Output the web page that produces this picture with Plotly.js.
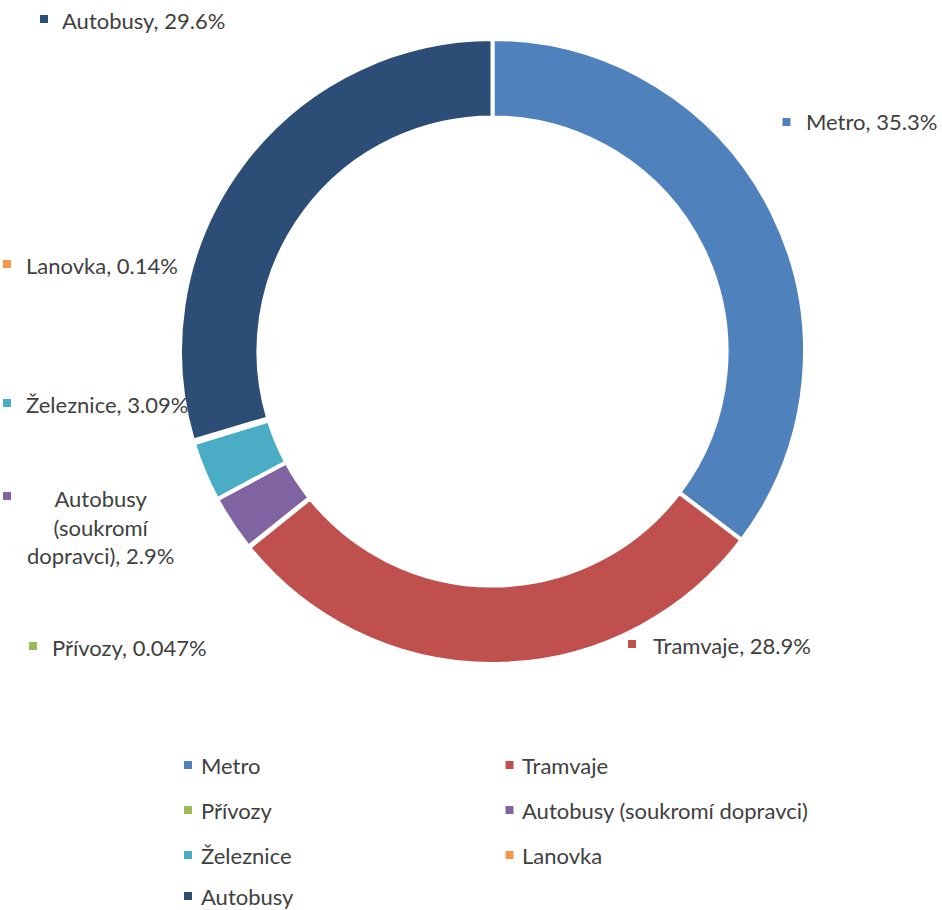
<!DOCTYPE html>
<html>
<head>
<meta charset="utf-8">
<script src="https://cdn.plot.ly/plotly-3.0.1.min.js"></script>
<style>html,body{margin:0;padding:0;background:#fff;}#chart{width:942px;height:910px;}</style>
</head>
<body>
<div id="chart"></div>
<script>
// ---- data ----
const categories = ['Metro', 'Tramvaje', 'Přívozy', 'Autobusy (soukromí dopravci)', 'Železnice', 'Lanovka', 'Autobusy'];
const shares = [35.3, 28.9, 0.047, 2.9, 3.09, 0.14, 29.6];
const colors = ['#4F81BD', '#C0504D', '#9BBB59', '#8064A2', '#4BACC6', '#F79646', '#2C4D75'];

// ---- layout helpers (pixel placement of labels / legend) ----
const W = 942, H = 910;
const px = x => x / W;
const py = y => 1 - y / H;
const FONT = 'Lato, "Open Sans", sans-serif';
const TXT = '#404040';

// label placement per slice: marker centre (mx,my), text anchor (tx,ty), anchor mode
const labelPlace = [
  {mx: 786.5, my: 122, tx: 805, ty: 122, xa: 'left'},
  {mx: 632, my: 644, tx: 652, ty: 645, xa: 'left'},
  {mx: 33, my: 646, tx: 51, ty: 647, xa: 'left'},
  {mx: 7, my: 496, tx: 100, ty: 527, xa: 'center'},
  {mx: 7, my: 403, tx: 25, ty: 404, xa: 'left'},
  {mx: 7, my: 264, tx: 25, ty: 265, xa: 'left'},
  {mx: 44, my: 19, tx: 61, ty: 20, xa: 'left'}
];

function wrap(str, maxChars) {
  const words = str.split(' ');
  const lines = [];
  let cur = '';
  words.forEach(w => {
    if (cur && (cur + ' ' + w).length > maxChars) { lines.push(cur); cur = w; }
    else cur = cur ? cur + ' ' + w : w;
  });
  if (cur) lines.push(cur);
  return lines.join('<br>');
}

const annotations = [];
const shapes = [];
const SQ = 8;
function square(cx, cy, color) {
  shapes.push({type: 'rect', xref: 'paper', yref: 'paper',
    x0: px(cx - SQ / 2), x1: px(cx + SQ / 2), y0: py(cy + SQ / 2), y1: py(cy - SQ / 2),
    fillcolor: color, line: {width: 0}});
}

categories.forEach((c, i) => {
  const p = labelPlace[i];
  const text = wrap(c + ', ' + String(shares[i]) + '%', 16);
  square(p.mx, p.my, colors[i]);
  annotations.push({xref: 'paper', yref: 'paper', x: px(p.tx), y: py(p.ty),
    xanchor: p.xa, yanchor: 'middle', align: 'center', showarrow: false, text: text,
    borderpad: 0, font: {family: FONT, size: 22, color: TXT}});
});

// manual legend, two columns filled row-wise
const legCols = [{mx: 188, tx: 200}, {mx: 509.5, tx: 521}];
const legRows = [765, 810, 855, 896];
categories.forEach((c, i) => {
  const col = legCols[i % 2];
  const ry = legRows[Math.floor(i / 2)];
  square(col.mx, ry, colors[i]);
  annotations.push({xref: 'paper', yref: 'paper', x: px(col.tx), y: py(ry),
    xanchor: 'left', yanchor: 'middle', showarrow: false, text: c,
    borderpad: 0, font: {family: FONT, size: 22, color: TXT}});
});

// donut geometry: centre (492.5, 351.5), radius 312.5 px
const cx = 492.5, cy = 351.5, R = 312.5;

const trace = {
  type: 'pie',
  labels: categories,
  values: shares,
  sort: false,
  direction: 'clockwise',
  rotation: 0,
  hole: 0.749,
  textinfo: 'none',
  hoverinfo: 'label+percent',
  marker: {colors: colors, line: {color: '#ffffff', width: 4}},
  domain: {x: [px(cx - R), px(cx + R)], y: [py(cy + R), py(cy - R)]},
  showlegend: false
};

const layout = {
  width: W, height: H,
  margin: {l: 0, r: 0, t: 0, b: 0},
  paper_bgcolor: '#ffffff',
  showlegend: false,
  annotations: annotations,
  shapes: shapes,
  font: {family: FONT}
};

Plotly.newPlot('chart', [trace], layout, {displayModeBar: false, staticPlot: true});
</script>
</body>
</html>
